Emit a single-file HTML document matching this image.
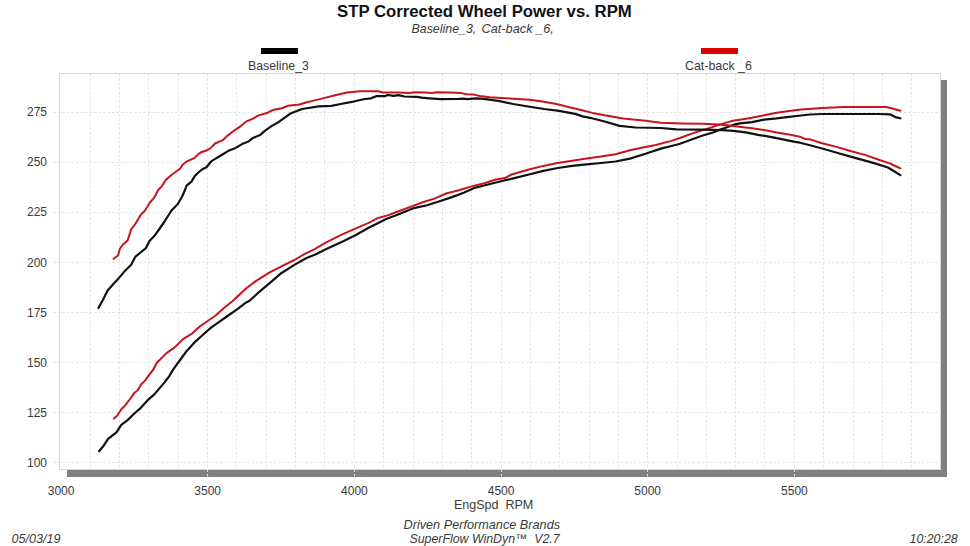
<!DOCTYPE html>
<html><head><meta charset="utf-8">
<style>
html,body{margin:0;padding:0;background:#fff;}
body{width:970px;height:546px;position:relative;overflow:hidden;font-family:"Liberation Sans",sans-serif;color:#3a3a3a;}
.t{position:absolute;white-space:nowrap;font-size:12px;line-height:14px;}
.yl{left:0;width:47px;text-align:right;}
.xl{top:484px;width:80px;text-align:center;}
.c{text-align:center;}
.i{font-style:italic;}
</style></head><body>
<svg width="970" height="546" viewBox="0 0 970 546" style="position:absolute;left:0;top:0">
<rect x="67" y="470" width="880" height="7" fill="#808080"/>
<rect x="940" y="80" width="7" height="397" fill="#808080"/>
<rect x="59.5" y="73.5" width="881.0" height="396.0" fill="#fff" stroke="#d6d6d6" stroke-width="1"/>
<path d="M90.5 73.5V469.5 M119.5 73.5V469.5 M148.5 73.5V469.5 M178.5 73.5V469.5 M207.5 73.5V476.5 M236.5 73.5V469.5 M266.5 73.5V469.5 M295.5 73.5V469.5 M324.5 73.5V469.5 M354.5 73.5V476.5 M383.5 73.5V469.5 M413.5 73.5V469.5 M442.5 73.5V469.5 M471.5 73.5V469.5 M501.5 73.5V476.5 M530.5 73.5V469.5 M559.5 73.5V469.5 M589.5 73.5V469.5 M618.5 73.5V469.5 M647.5 73.5V476.5 M677.5 73.5V469.5 M706.5 73.5V469.5 M735.5 73.5V469.5 M764.5 73.5V469.5 M794.5 73.5V476.5 M823.5 73.5V469.5 M853.5 73.5V469.5 M882.5 73.5V469.5 M911.5 73.5V469.5" stroke="#e3e3e3" stroke-width="1" stroke-dasharray="2.5 2" fill="none"/>
<path d="M53.5 112.5H940.5 M53.5 162.5H940.5 M53.5 212.5H940.5 M53.5 262.5H940.5 M53.5 312.5H940.5 M53.5 362.5H940.5 M53.5 412.5H940.5 M53.5 462.5H940.5" stroke="#e3e3e3" stroke-width="1" stroke-dasharray="2.5 2" fill="none"/>
<g transform="translate(0,0.5)"><polyline points="99.1,450.7 103.2,445.8 108.1,438.4 116.4,431.8 121.3,424.4 127.9,419.4 134.5,412.8 141.1,407.1 147.7,399.7 154.3,393.9 159.2,388.1 164.1,382.4 169.1,375.8 173.1,369.1 179.7,360 186.3,351 194.5,341.9 202.7,334.5 211,327.1 219.2,321.3 227.5,315.5 235.7,309.8 245.6,302.4 249.9,300 259.8,290.8 269.7,282.6 281.2,272.7 294.4,264.4 306,257.8 315.9,253.7 325.8,248.8 342.2,241.3 355.4,234.7 368.6,227.3 377.3,223 386.1,218.6 399.3,213.4 413.9,207.6 427.1,204.7 438.8,201 452,196.6 463.7,192.2 475.4,187.1 487.1,184.2 498.9,181.2 514.4,177.6 528.9,174 543.3,170.4 557.7,167.5 572.2,165.4 586.6,163.9 601,162.5 615.5,161 629.9,158.1 645.5,153.3 660.9,148.1 676.4,144.3 680,143.3 691,139.3 702,135.3 713,132 720.3,129 727.6,126.5 734.9,123.9 740,122.8 751.9,121.6 764.2,119.1 776.6,117.9 789,116.3 801,115 810,114 822,113.5 845.8,113.5 878.8,113.5 889.8,113.8 895.3,116.6 900.4,117.8" fill="none" stroke="#111" stroke-width="2.2" stroke-linejoin="round" stroke-linecap="round"/>
<polyline points="113.9,418.1 117.2,415.3 121.3,408.7 125.4,404.6 130.4,398 134.5,392.2 137.8,389.8 141.1,384 145.2,379.9 149.3,374.1 153.4,369 156.6,362.5 166.5,352.6 174.7,346.9 183,338.6 191.2,333.7 199.4,326.3 207.7,320.5 215.9,314.7 224.2,307.3 232.4,300.7 242.3,291.6 246.6,287.5 256.5,280.1 269.7,271.8 282.9,265.2 294.4,259.5 304.3,253.7 314.2,248.8 325.8,242.2 342.2,233.9 355.4,228.1 368.6,222.4 377.3,217.8 387.6,214.9 399.3,210.5 411,206.1 422.7,201.7 434.4,198.1 446.1,193 457.9,190 472.5,185.6 484.2,182.7 495.9,179 504.7,177.6 511.5,174 528.9,169 543.3,165.4 557.7,162.5 572.2,160.3 586.6,158.1 601,156 615.5,153.8 630,149.7 640.3,147.6 655.8,144.5 671.2,140.4 680,137.5 691,133.4 702,129.8 709.3,127.6 720.3,123.9 731.3,120.6 740,119.2 751.9,117.3 764.2,114.8 776.6,112.3 789,110.5 801.3,108.9 822,107.4 844,106.5 886.1,106.5 891.6,107.8 900.4,110.2" fill="none" stroke="#c8141e" stroke-width="2" stroke-linejoin="round" stroke-linecap="round"/>
<polyline points="98.5,307.4 102.6,300 107.6,290 113.6,283.2 119,277.4 125.3,270 131.2,264.2 135.5,256.1 139.9,252.5 145.9,247.6 149.5,240.5 154.7,235.1 158.3,230 164.2,221.5 171.5,210 177.6,203.8 182,196.2 184.8,190 186.6,185.2 191.7,180.8 194.7,175.6 197.6,172.7 202,169 206.4,166.8 209.3,163.2 211.5,160.6 215.2,158.4 220,155.5 227.9,150.6 235.6,147.4 242,143.6 248.5,141 252.3,137.8 260,134.6 265.1,130.1 271.5,125.6 279.2,121.2 284.4,117.3 290.5,113 302,108.5 318.7,105.9 331.5,105.3 338,104 354.6,100.8 364.9,98.5 371.1,97.8 376.1,95.7 384.7,95.7 387.8,94.5 393.4,95.4 398.4,94.7 404.5,96 416.9,96.4 421.9,97.2 429.3,97.8 440.4,98.7 456.5,98.5 462.7,98.2 467.6,98.7 476.3,97.8 483.6,98.3 498.5,100.4 513.3,103.5 528.1,106 544.2,108.5 559.1,110.3 575.2,113.4 582.6,115.9 589.9,117.3 604.7,121 619.6,125.4 635.7,127 660.9,127.5 676.4,128.9 702.2,129.1 722.8,129.6 733.3,130.3 745.7,131.9 758,134.3 770.4,136.4 782.8,138.9 795.2,141.4 800,142.2 811,145 827.5,149.5 840.3,153.2 855,157.4 873.3,162.4 887.9,167 895.3,171.5 900.4,174.6" fill="none" stroke="#111" stroke-width="2.2" stroke-linejoin="round" stroke-linecap="round"/>
<polyline points="113.6,258.3 118,255 120,248 123,244 127.6,240 131.2,228.9 135.6,223 140.8,214.2 145.2,209.8 149.6,202.5 154,197.4 158.4,189.3 162,185.6 165.5,179.7 171,174.7 180,168.3 182.9,163.9 185.9,161.4 194.7,157.3 198.3,153.7 201.2,151.8 206.4,150 210,148.1 215.1,143 222.8,139.7 226.7,135.9 233.1,130.8 240.8,125.6 245.9,121.2 253.6,117.9 257.4,115.4 267.7,112.2 272.8,109.6 281.8,107.7 288,105.3 299.5,104 305.9,102 313.6,100.1 323.8,97.6 334.1,95 346.9,92.1 359.7,90.8 378.6,90.8 382.3,92 397.1,92 409.5,92.6 414.4,91.7 425.6,92 431.8,92.6 436.7,91.7 449.1,91.9 461.4,92.6 466.4,93.8 473.8,94.1 479.9,95.5 489.8,96.7 509.6,97.9 529.4,99.2 539.3,100.4 556.6,103.5 571.4,107.2 580,109.3 592.4,112.4 604.7,114.8 623.3,117.9 645.5,120.3 660.9,122.2 681.5,122.9 702.2,123.2 714.7,123.7 727.1,124.7 739.5,126.2 751.9,127.8 764.2,129.6 776.6,131.9 789,134 800,136.2 805.5,138.6 811,139.1 822,142.8 836.6,146.4 851.3,150.8 864.1,154.1 878.8,159.3 889.8,162.9 895.3,165.5 900.4,167.9" fill="none" stroke="#c8141e" stroke-width="2" stroke-linejoin="round" stroke-linecap="round"/></g>
<rect x="261" y="48" width="37" height="6" fill="#000"/>
<rect x="701" y="48" width="37" height="6" fill="#dd0000"/>
</svg>
<div class="t" style="left:337px;top:1.5px;font-size:16.75px;line-height:20px;font-weight:bold;color:#111">STP Corrected Wheel Power vs. RPM</div>
<div class="t i" style="left:411.5px;top:22px;font-size:12.4px;color:#3a3a3a">Baseline_3,</div>
<div class="t i" style="left:481.5px;top:22px;font-size:12.75px;color:#3a3a3a">Cat-back _6,</div>
<div class="t" style="left:248px;top:59px;font-size:12.3px">Baseline_3</div>
<div class="t" style="left:685px;top:59px;font-size:12.4px">Cat-back _6</div>
<div class="t yl" style="top:105.3px">275</div>
<div class="t yl" style="top:155.4px">250</div>
<div class="t yl" style="top:205.4px">225</div>
<div class="t yl" style="top:255.5px">200</div>
<div class="t yl" style="top:305.5px">175</div>
<div class="t yl" style="top:355.5px">150</div>
<div class="t yl" style="top:405.6px">125</div>
<div class="t yl" style="top:455.6px">100</div>
<div class="t xl" style="left:21.1px">3000</div>
<div class="t xl" style="left:167.7px">3500</div>
<div class="t xl" style="left:314.4px">4000</div>
<div class="t xl" style="left:461.1px">4500</div>
<div class="t xl" style="left:607.7px">5000</div>
<div class="t xl" style="left:754.4px">5500</div>

<div class="t" style="left:454px;top:498px;font-size:12.5px">EngSpd&nbsp; RPM</div>
<div class="t i" style="left:403.5px;top:518px;font-size:12.7px">Driven Performance Brands</div>
<div class="t i" style="left:409.5px;top:532px;font-size:12.35px">SuperFlow WinDyn&#8482;&nbsp; V2.7</div>
<div class="t i" style="left:11.5px;top:532px;font-size:12.6px">05/03/19</div>
<div class="t i" style="left:909.5px;top:532px;font-size:12.4px">10:20:28</div>
</body></html>
